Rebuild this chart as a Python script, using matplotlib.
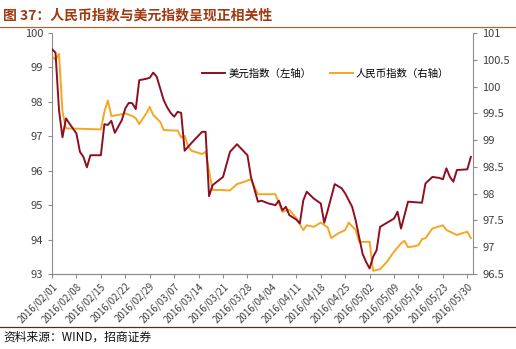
import pandas as pd
import matplotlib.pyplot as plt
import matplotlib.dates as mdates
from matplotlib.lines import Line2D

plt.rcParams['font.family'] = ['Noto Sans CJK SC', 'DejaVu Sans']

# 美元指数（左轴）
usd_dates = ['02-01', '02-02', '02-03', '02-04', '02-05', '02-06', '02-08', '02-09',
             '02-10', '02-11', '02-12', '02-15', '02-16', '02-17', '02-18', '02-19',
             '02-21', '02-22', '02-23', '02-24', '02-25', '02-26', '02-28', '02-29',
             '03-01', '03-02', '03-04', '03-05', '03-06', '03-07', '03-08', '03-09',
             '03-10', '03-12', '03-15', '03-16', '03-17', '03-18', '03-21', '03-23',
             '03-25', '03-28', '03-29', '03-31', '04-01', '04-03', '04-05', '04-06',
             '04-07', '04-08', '04-09', '04-11', '04-12', '04-13', '04-14', '04-16',
             '04-18', '04-19', '04-20', '04-22', '04-24', '04-25', '04-27', '04-28',
             '04-30', '05-01', '05-02', '05-03', '05-04', '05-05', '05-07', '05-09',
             '05-10', '05-11', '05-13', '05-17', '05-18', '05-20', '05-22', '05-23',
             '05-24', '05-25', '05-26', '05-27', '05-30', '05-31']
usd_values = [99.53, 99.43, 97.76, 96.97, 97.52, 97.37, 97.08, 96.55,
              96.40, 96.10, 96.45, 96.45, 97.35, 97.33, 97.45, 97.10,
              97.47, 97.81, 97.97, 97.96, 97.79, 98.63, 98.67, 98.70,
              98.85, 98.73, 98.05, 97.84, 97.68, 97.57, 97.71, 97.68,
              96.58, 96.81, 97.13, 97.13, 95.26, 95.58, 95.82, 96.55,
              96.77, 96.45, 95.82, 95.10, 95.13, 95.05, 95.00, 95.13,
              94.85, 94.95, 94.71, 94.58, 94.47, 95.14, 95.39, 95.19,
              95.05, 94.49, 94.85, 95.61, 95.49, 95.34, 94.95, 94.56,
              93.58, 93.35, 93.16, 93.50, 93.69, 94.37, 94.49, 94.61,
              94.81, 94.32, 95.10, 95.07, 95.63, 95.82, 95.79, 95.75,
              96.07, 95.82, 95.68, 96.02, 96.04, 96.40]

# 人民币指数（右轴）
cny_dates = ['02-01', '02-02', '02-03', '02-04', '02-05', '02-15', '02-16', '02-17',
             '02-18', '02-20', '02-22', '02-24', '02-25', '02-26', '02-28', '02-29',
             '03-01', '03-03', '03-04', '03-06', '03-08', '03-09', '03-10', '03-11',
             '03-12', '03-15', '03-16', '03-18', '03-20', '03-23', '03-25', '03-27',
             '03-29', '03-30', '03-31', '04-05', '04-07', '04-09', '04-11', '04-12',
             '04-13', '04-14', '04-16', '04-18', '04-20', '04-21', '04-23', '04-25',
             '04-26', '04-28', '04-29', '05-02', '05-03', '05-05', '05-07', '05-09',
             '05-11', '05-12', '05-13', '05-15', '05-16', '05-17', '05-18', '05-20',
             '05-23', '05-24', '05-27', '05-30', '05-31']
cny_values = [100.56, 100.50, 100.61, 99.53, 99.22, 99.20, 99.53, 99.74,
              99.45, 99.47, 99.50, 99.45, 99.41, 99.30, 99.50, 99.62,
              99.47, 99.34, 99.19, 99.18, 99.18, 99.05, 99.08, 98.88,
              98.80, 98.74, 98.78, 98.07, 98.07, 98.06, 98.18, 98.22,
              98.27, 98.13, 97.99, 97.99, 97.66, 97.70, 97.54, 97.43,
              97.32, 97.41, 97.38, 97.46, 97.37, 97.17, 97.26, 97.32,
              97.46, 97.32, 97.10, 97.10, 96.56, 96.59, 96.73, 96.92,
              97.07, 97.12, 97.00, 97.02, 97.04, 97.15, 97.17, 97.35,
              97.41, 97.32, 97.23, 97.29, 97.17]

left_ticks = [93, 94, 95, 96, 97, 98, 99, 100]
right_ticks = [96.5, 97, 97.5, 98, 98.5, 99, 99.5, 100, 100.5, 101]

usd_x = pd.to_datetime(['2016-' + d for d in usd_dates])
cny_x = pd.to_datetime(['2016-' + d for d in cny_dates])

red = '#8e0f22'
orange = '#f5a623'
tick_color = '#404040'
spine_color = '#8c8c8c'

fig = plt.figure(figsize=(5.16, 3.49), dpi=100)
ax = fig.add_axes([0.1008, 0.2149, 0.8159, 0.6905])
ax2 = ax.twinx()

ax.plot(usd_x, usd_values, color=red, lw=1.4, zorder=3)
ax2.plot(cny_x, cny_values, color=orange, lw=1.4)
ax.set_zorder(ax2.get_zorder() + 1)
ax.patch.set_visible(False)

ax.set_ylim(93, 100)
ax2.set_ylim(96.5, 101)
ax.set_yticks(left_ticks)
ax2.set_yticks(right_ticks)
ax.set_yticklabels([f'{t:g}' for t in left_ticks])
ax2.set_yticklabels([f'{t:g}' for t in right_ticks])

ax.set_xlim(pd.Timestamp('2016-02-01'), pd.Timestamp('2016-05-31 15:00'))
ax.xaxis.set_major_locator(mdates.WeekdayLocator(byweekday=mdates.MO))
ax.xaxis.set_major_formatter(mdates.DateFormatter('%Y/%m/%d'))
for lbl in ax.get_xticklabels():
    lbl.set_rotation(45)
    lbl.set_ha('right')
    lbl.set_rotation_mode('anchor')

for a in (ax, ax2):
    for side in ('top',):
        a.spines[side].set_visible(False)
    for side in ('left', 'right', 'bottom'):
        a.spines[side].set_color(spine_color)
        a.spines[side].set_linewidth(0.8)
    a.tick_params(colors=spine_color, labelcolor=tick_color, length=3, width=0.8,
                  labelsize=8)
ax.tick_params(axis='x', labelsize=7, pad=2)
ax2.spines['left'].set_visible(False)
ax.spines['right'].set_visible(False)

handles = [Line2D([], [], color=red, lw=1.4), Line2D([], [], color=orange, lw=1.4)]
ax.legend(handles, ['美元指数（左轴）', '人民币指数（右轴）'], loc='center',
          bbox_to_anchor=(0.65, 0.83), ncol=2, frameon=False, fontsize=7.5,
          handlelength=2.2, columnspacing=1.8, handletextpad=0.3)

# 标题与来源
fig.text(0.006, 0.955, '图 37：人民币指数与美元指数呈现正相关性', fontsize=10,
         fontweight='bold', color='#a03a12', va='center', ha='left')
fig.add_artist(Line2D([0, 1], [1 - 27 / 349] * 2, color='#9a6a3a', lw=0.9))
fig.add_artist(Line2D([0, 1], [1 - 327 / 349] * 2, color='#4a3020', lw=0.9))
fig.text(0.006, 1 - 337 / 349, '资料来源：WIND，招商证券', fontsize=8.5,
         color='#111111', va='center', ha='left')

fig.savefig('out.png', dpi=100)
